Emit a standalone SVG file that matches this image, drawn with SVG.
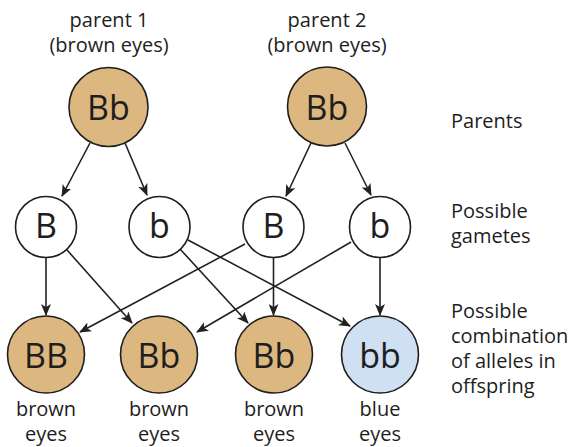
<svg xmlns="http://www.w3.org/2000/svg" width="578" height="447" viewBox="0 0 578 447">
<defs>
<style>
text{font-family:"Open Sans","Noto Sans","Liberation Sans",sans-serif;fill:#1e1e1e}
.lbl{font-size:20px}
.mid{text-anchor:middle}
.big{font-size:34px;text-anchor:middle}
.brown{fill:#dcb77f;stroke:#1e1e1e;stroke-width:1.6}
.blue{fill:#cfe0f2;stroke:#1e1e1e;stroke-width:1.6}
.white{fill:#ffffff;stroke:#1e1e1e;stroke-width:1.6}
.con line{stroke:#222;stroke-width:1.6;marker-end:url(#ah)}
</style>
<marker id="ah" viewBox="0 0 12 10" refX="11" refY="5" markerWidth="12" markerHeight="10" markerUnits="userSpaceOnUse" orient="auto">
<path d="M0,0 L12,5 L0,10 L3,5 Z" fill="#222"/>
</marker>
</defs>
<rect width="578" height="447" fill="#ffffff"/>

<g id="parent1">
<text class="lbl mid" x="109" y="27">parent 1</text>
<text class="lbl mid" x="109" y="52">(brown eyes)</text>
<circle class="brown" cx="108.5" cy="107" r="39.5"/>
<text class="big" x="108.5" y="120">Bb</text>
</g>
<g id="parent2">
<text class="lbl mid" x="327" y="27">parent 2</text>
<text class="lbl mid" x="327" y="52">(brown eyes)</text>
<circle class="brown" cx="327" cy="106.5" r="39.5"/>
<text class="big" x="327" y="119.5">Bb</text>
</g>

<g id="g1"><circle class="white" cx="46" cy="227" r="30.5"/><text class="big" x="46" y="238">B</text></g>
<g id="g2"><circle class="white" cx="159.5" cy="227" r="30.5"/><text class="big" x="159.5" y="238">b</text></g>
<g id="g3"><circle class="white" cx="273.5" cy="227" r="30.5"/><text class="big" x="273.5" y="238">B</text></g>
<g id="g4"><circle class="white" cx="380" cy="227" r="30.5"/><text class="big" x="380" y="238">b</text></g>

<g id="o1"><circle class="brown" cx="46" cy="354.5" r="38.5"/><text class="big" x="46" y="367.5">BB</text>
<text class="lbl mid" x="46" y="416">brown</text><text class="lbl mid" x="46" y="441">eyes</text></g>
<g id="o2"><circle class="brown" cx="159" cy="354.5" r="38.5"/><text class="big" x="159" y="367.5">Bb</text>
<text class="lbl mid" x="159" y="416">brown</text><text class="lbl mid" x="159" y="441">eyes</text></g>
<g id="o3"><circle class="brown" cx="274" cy="354.5" r="38.5"/><text class="big" x="274" y="367.5">Bb</text>
<text class="lbl mid" x="274" y="416">brown</text><text class="lbl mid" x="274" y="441">eyes</text></g>
<g id="o4"><circle class="blue" cx="380" cy="354.5" r="38.5"/><text class="big" x="380" y="367.5">bb</text>
<text class="lbl mid" x="380" y="416">blue</text><text class="lbl mid" x="380" y="441">eyes</text></g>

<g id="legend">
<text class="lbl" x="451" y="128">Parents</text>
<text class="lbl" x="451" y="218">Possible</text>
<text class="lbl" x="451" y="243">gametes</text>
<text class="lbl" x="451" y="318">Possible</text>
<text class="lbl" x="451" y="343">combination</text>
<text class="lbl" x="451" y="368">of alleles in</text>
<text class="lbl" x="451" y="393">offspring</text>
</g>

<g id="connectors" class="con">
<line x1="90" y1="143" x2="62" y2="196"/>
<line x1="125" y1="143" x2="147" y2="195"/>
<line x1="311" y1="143" x2="286" y2="196"/>
<line x1="345" y1="143" x2="371" y2="195"/>
<line x1="46" y1="258" x2="46" y2="315"/>
<line x1="67" y1="250" x2="132" y2="323"/>
<line x1="180" y1="249" x2="248" y2="323"/>
<line x1="188" y1="240" x2="350" y2="326"/>
<line x1="245" y1="244" x2="80" y2="332"/>
<line x1="273.5" y1="258" x2="273.5" y2="315"/>
<line x1="351" y1="242" x2="197" y2="332"/>
<line x1="380" y1="258" x2="380" y2="315"/>
</g>
</svg>
